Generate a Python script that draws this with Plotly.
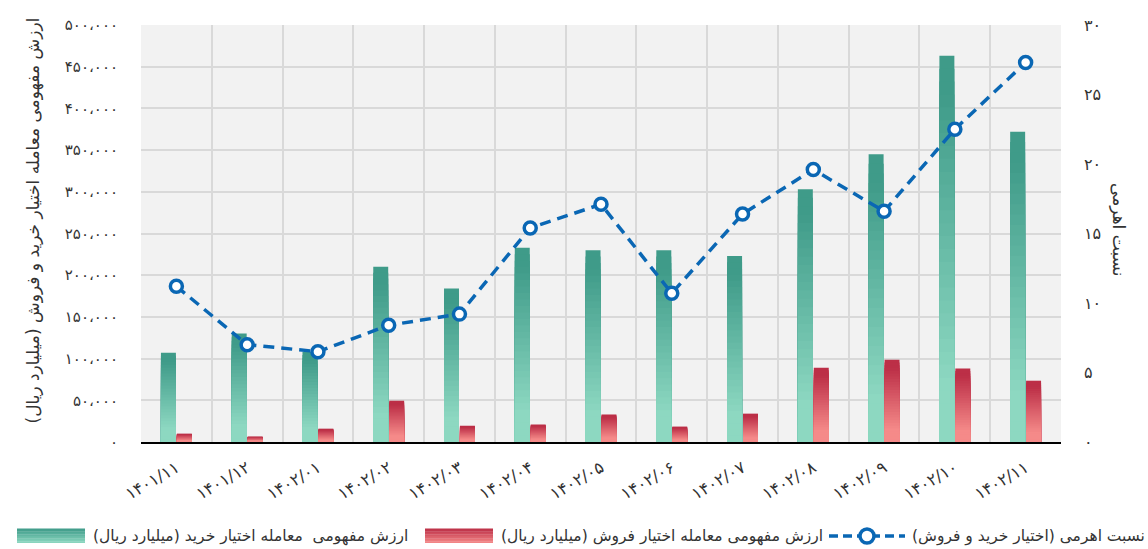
import plotly.graph_objects as go

FA_DIGITS = str.maketrans("0123456789", "۰۱۲۳۴۵۶۷۸۹")


def fa(s):
    return str(s).translate(FA_DIGITS)


# data
months = ["1401/11", "1401/12", "1402/01", "1402/02", "1402/03", "1402/04", "1402/05",
          "1402/06", "1402/07", "1402/08", "1402/09", "1402/10", "1402/11"]
call_value = [107000, 130000, 108000, 210000, 184000, 233000, 230000,
              230000, 223000, 303000, 345000, 463000, 372000]
put_value = [10000, 6500, 16000, 49500, 19500, 21000, 33000,
             18500, 34000, 89000, 98500, 88000, 73500]
leverage = [11.2, 7.0, 6.5, 8.4, 9.2, 15.4, 17.1, 10.7, 16.4, 19.6, 16.6, 22.5, 27.3]

left_ticks = list(range(0, 500001, 50000))
right_ticks = list(range(0, 31, 5))

call_name = "ارزش مفهومی  معامله اختیار خرید (میلیارد ریال)"
put_name = "ارزش مفهومی معامله اختیار فروش (میلیارد ریال)"
lev_name = "نسبت اهرمی (اختیار خرید و فروش)"
left_title = "ارزش مفهومی معامله اختیار خرید و فروش (میلیارد ریال)"
right_title = "نسبت اهرمی"

FONT = "DejaVu Sans"
TEXT = "#333333"
GREEN = ("#8dd8c1", "#3f9b89")   # bottom, top
RED = ("#f58a89", "#bc2f47")
BLUE = "#0a67b4"
GRID = "#d9d9d9"
N_SLICES = 30

W, H = 1148, 549
M = {"l": 141, "r": 87, "t": 25, "b": 107}

cats = [fa(m) for m in months]


def _mix(c0, c1, t):
    a = [int(c0[i:i + 2], 16) for i in (1, 3, 5)]
    b = [int(c1[i:i + 2], 16) for i in (1, 3, 5)]
    return "#" + "".join(f"{round(x + (y - x) * t):02x}" for x, y in zip(a, b))


def _ramp(f):
    return min(max((f - 0.15) / 0.75, 0), 1)


def add_gradient_bars(fig, values, colors, name, group):
    # overlapping bars, each shorter and lighter than the last, read as a vertical gradient
    for k in range(N_SLICES):
        frac = (N_SLICES - k) / N_SLICES
        f = (N_SLICES - k - 0.5) / N_SLICES
        fig.add_trace(go.Bar(
            x=cats, y=[v * frac for v in values],
            offsetgroup=group, name=name,
            marker={"color": _mix(colors[0], colors[1], _ramp(f)), "line": {"width": 0}},
            showlegend=False, hoverinfo="skip",
        ))


# pixel -> paper helpers (for the hand-built legend and axis titles)
PW = W - M["l"] - M["r"]
PH = H - M["t"] - M["b"]


def px(x):
    return (x - M["l"]) / PW


def py(y):
    return (H - M["b"] - y) / PH


fig = go.Figure()
add_gradient_bars(fig, call_value, GREEN, call_name, "call")
add_gradient_bars(fig, put_value, RED, put_name, "put")

fig.add_trace(go.Scatter(
    x=cats, y=leverage, yaxis="y2", name=lev_name, mode="lines+markers",
    line={"color": BLUE, "width": 3.5, "dash": "11px,7px"},
    marker={"symbol": "circle", "size": 12, "color": "white", "line": {"color": BLUE, "width": 3.5}},
    showlegend=False,
))

# legend drawn by hand: wide gradient swatches like the original
shapes = []
annotations = []
LEG_Y0, LEG_Y1 = 529, 543
for (x0, x1), colors, label, tx in [((17, 85), GREEN, call_name, 91),
                                    ((425, 493), RED, put_name, 499)]:
    n = 10
    for i in range(n):
        ya = LEG_Y1 - (LEG_Y1 - LEG_Y0) * i / n
        yb = LEG_Y1 - (LEG_Y1 - LEG_Y0) * (i + 1) / n
        shapes.append(dict(type="rect", xref="paper", yref="paper",
                           x0=px(x0), x1=px(x1), y0=py(ya), y1=py(yb) + 0.001,
                           fillcolor=_mix(colors[0], colors[1], (i + 0.5) / n), line={"width": 0}))
    annotations.append(dict(text=label, xref="paper", yref="paper", x=px(tx), y=py(536),
                            xanchor="left", yanchor="middle", showarrow=False,
                            font={"size": 15.5, "color": TEXT}))
shapes.append(dict(type="line", xref="paper", yref="paper", x0=px(829), x1=px(905),
                   y0=py(536), y1=py(536), line={"color": BLUE, "width": 3.5, "dash": "9px,5px"}))
shapes.append(dict(type="circle", xref="paper", yref="paper", x0=px(860), x1=px(874),
                   y0=py(543), y1=py(529), fillcolor="white", line={"color": BLUE, "width": 3.5}))
annotations.append(dict(text=lev_name, xref="paper", yref="paper", x=px(910), y=py(536),
                        xanchor="left", yanchor="middle", showarrow=False,
                        font={"size": 15.5, "color": TEXT}))

annotations += [
    dict(text=left_title, xref="paper", yref="paper", x=px(21), y=py(221),
         textangle=-90, showarrow=False, font={"size": 17, "color": TEXT}),
    dict(text=right_title, xref="paper", yref="paper", x=px(1131), y=py(229),
         textangle=90, showarrow=False, font={"size": 17, "color": TEXT}),
]

fig.update_layout(
    width=W, height=H, margin=M, showlegend=False,
    paper_bgcolor="white", plot_bgcolor="#f2f2f2",
    font={"family": FONT, "size": 14, "color": TEXT},
    barmode="group", bargap=0.55, bargroupgap=0.06,
    xaxis={
        "type": "category", "range": [-0.5, len(cats) - 0.5],
        "tickson": "boundaries", "showgrid": True, "automargin": False,
        "gridcolor": GRID, "gridwidth": 2, "ticks": "", "tickangle": -30,
        "showline": True, "linecolor": "black", "linewidth": 2, "mirror": False,
        "ticklabelstandoff": 8, "tickfont": {"size": 16.5, "color": TEXT},
    },
    yaxis={
        "range": [0, 500000], "tickvals": left_ticks, "automargin": False,
        "ticktext": [fa(f"{v:,}").replace(",", "،") for v in left_ticks],
        "gridcolor": GRID, "gridwidth": 2, "zeroline": False,
        "ticklabelstandoff": 22, "tickfont": {"size": 15},
    },
    yaxis2={
        "overlaying": "y", "side": "right", "range": [0, 30], "automargin": False,
        "tickvals": right_ticks, "ticktext": [fa(v) for v in right_ticks],
        "showgrid": False, "zeroline": False,
        "ticklabelstandoff": 22, "tickfont": {"size": 16},
    },
    shapes=shapes,
    annotations=annotations,
)

# the page's default body margin would push the figure 8px off the window
fig.write_html("out.html", config={"displayModeBar": False},
               post_script="document.body.style.margin = '0';")
